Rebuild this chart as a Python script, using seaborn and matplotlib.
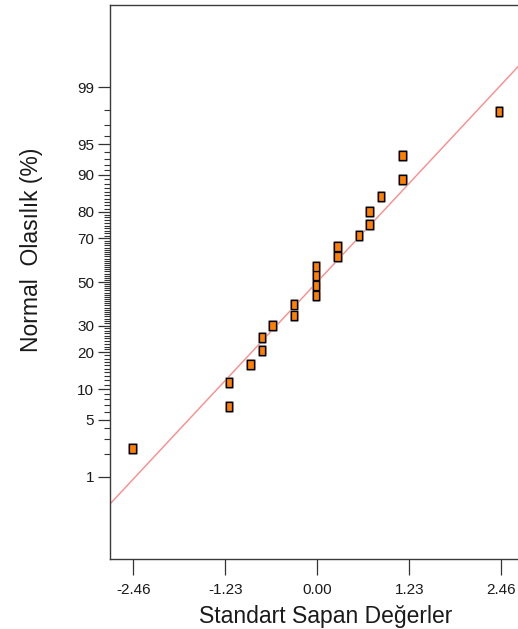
import numpy as np
import pandas as pd
import matplotlib
matplotlib.use("Agg")
import matplotlib.pyplot as plt
import matplotlib.patheffects as pe
from matplotlib.path import Path
from matplotlib.ticker import NullFormatter, FixedFormatter
import seaborn as sns
from statistics import NormalDist

# ---- data ----
std_residual = [-2.47, -1.18, -1.18, -0.89, -0.74, -0.74, -0.60, -0.31, -0.31,
                -0.02, -0.02, -0.02, -0.02, 0.27, 0.27, 0.56, 0.70, 0.70,
                0.85, 1.14, 1.14, 2.43]
normal_prob = [2.31, 6.90, 11.58, 16.13, 20.8, 25.4, 30.05, 34.6, 39.2,
               43.7, 48.2, 52.9, 57.3, 61.9, 66.4, 71.0, 75.6, 80.0,
               84.6, 89.0, 93.5, 97.9]
fit_slope = 0.959          # fitted line in normal-score units
fit_intercept = 0.002
x_ticks = [-2.46, -1.23, 0.00, 1.23, 2.46]
y_major = [1, 5, 10, 20, 30, 50, 70, 80, 90, 95, 99]
y_minor = [p for p in range(1, 100) if p not in y_major]

nd = NormalDist()
_inv = np.vectorize(lambda p: nd.inv_cdf(min(max(p / 100.0, 1e-12), 1 - 1e-12)),
                    otypes=[float])
_cdf = np.vectorize(lambda z: nd.cdf(z) * 100.0, otypes=[float])


def fwd(p):
    return _inv(np.asarray(p, dtype=float))


def inv(z):
    return _cdf(np.asarray(z, dtype=float))


df = pd.DataFrame({"resid": std_residual, "prob": normal_prob})

xlim = (-2.771, 2.750)
line_x = np.array(xlim) * 1.02
line_p = inv(fit_slope * line_x + fit_intercept)
df_line = pd.DataFrame({"x": line_x, "p": line_p})

sns.set_theme(style="white")
plt.rcParams["font.family"] = ["Liberation Sans", "DejaVu Sans"]

fig = plt.figure(figsize=(5.18, 6.29), dpi=100)
W, H = 518, 629
ax = fig.add_axes([110 / W, 1 - 559 / H, (523 - 110) / W, 554 / H])

ax.set_yscale("function", functions=(fwd, inv))

sns.lineplot(data=df_line, x="x", y="p", color="#FF8A8A", linewidth=1.0,
             ax=ax, sort=False, estimator=None)

rect = Path([(-0.36, -0.5), (0.36, -0.5), (0.36, 0.5), (-0.36, 0.5), (-0.36, -0.5)],
            [Path.MOVETO, Path.LINETO, Path.LINETO, Path.LINETO, Path.CLOSEPOLY])
sns.scatterplot(data=df, x="resid", y="prob", marker=rect, s=42,
                color="#FF8000", edgecolor="black", linewidth=0.9,
                ax=ax, zorder=5)
for coll in ax.collections:
    coll.set_path_effects([pe.withStroke(linewidth=2.2, foreground="#ABABAB"),
                           pe.Normal()])

z_top = 3.313
ax.set_ylim(float(inv(-z_top)), float(inv(z_top)))
ax.set_xlim(*xlim)

ax.set_xticks(x_ticks)
ax.set_xticklabels([f"{v:.2f}" for v in x_ticks])
ax.set_yticks(y_major)
ax.yaxis.set_major_formatter(FixedFormatter([str(v) for v in y_major]))
ax.set_yticks(y_minor, minor=True)
ax.yaxis.set_minor_formatter(NullFormatter())

ax.tick_params(axis="x", which="major", direction="out", length=11.5, width=0.9,
               color="#333333", labelsize=11, pad=6, labelcolor="#1a1a1a",
               bottom=True, top=False)
ax.tick_params(axis="y", which="major", direction="out", length=8.5, width=0.9,
               color="#333333", labelsize=11, pad=3, labelcolor="#1a1a1a",
               left=True, right=False)
ax.tick_params(axis="y", which="minor", direction="out", length=4.2, width=0.8,
               color="#333333", left=True, right=False)

for side in ["left", "top", "bottom", "right"]:
    ax.spines[side].set_color("#3a3a3a")
    ax.spines[side].set_linewidth(1.0)

ax.set_xlabel("")
ax.set_ylabel("")
fig.text(326 / W, 1 - 622.5 / H, "Standart Sapan Değerler", ha="center",
         va="baseline", fontsize=16.5, color="#1a1a1a")
fig.text(32 / W, 1 - 250 / H, "Normal  Olasılık (%)", ha="center",
         va="center", rotation=90, fontsize=16.5, color="#1a1a1a")

fig.savefig("out.png", dpi=100)
